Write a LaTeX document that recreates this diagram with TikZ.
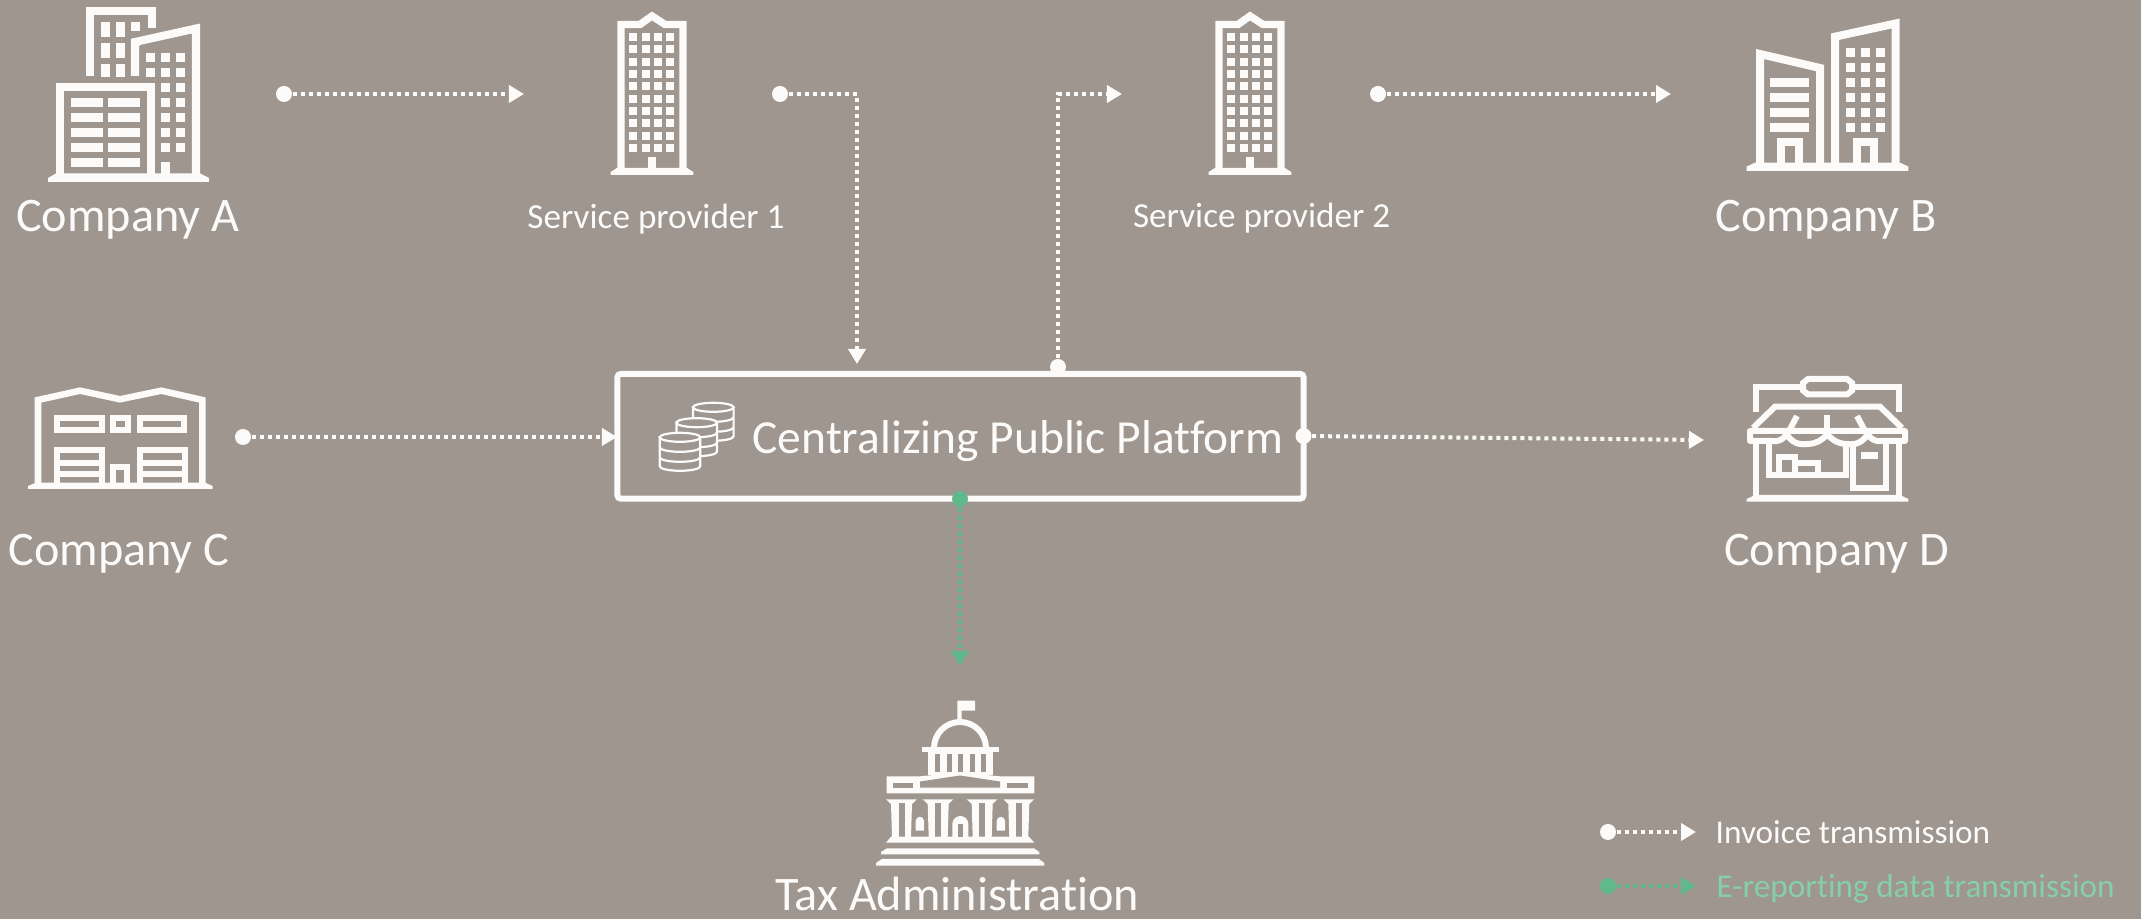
\documentclass[tikz,border=0pt]{standalone}
\usepackage{fontspec}
\setmainfont{Carlito}[Ligatures=CommonOff]
\usetikzlibrary{arrows.meta}
\definecolor{slab}{HTML}{9E968F}
\definecolor{paper}{HTML}{FCFBFA}
\definecolor{leaf}{HTML}{60B98A}
\definecolor{leaftext}{HTML}{85CFA9}
\def\pxw{0.2845pt}
\tikzset{
  bigtext/.style={text=paper,inner sep=0pt,anchor=base,font=\fontsize{13.7}{16}\selectfont},
  midtext/.style={text=paper,inner sep=0pt,anchor=base,font=\fontsize{10}{12}\selectfont},
  legtext/.style={text=paper,inner sep=0pt,anchor=base west,font=\fontsize{9.45}{12}\selectfont},
  outline/.style={draw=paper,line width=8*\pxw,line join=miter},
  thin outline/.style={draw=paper,line width=6*\pxw,line join=miter},
  pane/.style={fill=paper,draw=none},
  gap/.style={fill=slab,draw=none},
  enddot/.style={circle,fill=#1,draw=none,minimum size=16*\pxw,inner sep=0pt},
  flow/.style={#1,line width=4*\pxw,dash pattern=on 4*\pxw off 4*\pxw,
    -{Triangle[length=15*\pxw,width=17*\pxw,fill=#1]}},
  tower/.pic={
    \draw[outline,line width=7.4*\pxw] (621,168) -- (621,24.5) -- (640,24.5) -- (652,16) -- (665,24.5) -- (683,24.5) -- (683,168);
    \foreach \x in {629,642,654,666}
      \foreach \y in {32.7,44.7,58,70,82,95.3,107.3,119.3,132.3,144}
        \fill[pane] (\x,\y) rectangle ++(8,8);
    \fill[pane] (648,157) rectangle (656,170);
    \fill[pane] (610.7,172) -- (617,168) -- (687,168) -- (693.3,172) -- (693.3,175) -- (610.7,175) -- cycle;
  }
}
\begin{document}
\begin{tikzpicture}[x=0.01cm,y=-0.01cm]
  \useasboundingbox (0,0) rectangle (2141,919);
  \fill[slab] (0,0) rectangle (2141,919);

  % Company A
  \draw[outline] (90,76) -- (90,11.5) -- (152,11.5) -- (152,28);
  \foreach \x in {101,116}
    \foreach \y in {22,43,64}
      \fill[pane] (\x,\y) rectangle ++(9,\ifdim\y pt=64pt 13\else 15\fi);
  \fill[pane] (131,22) rectangle (140,31);
  \fill[pane] (131,43) rectangle (140,46);
  \draw[outline] (135,76) -- (135,42) -- (196,28.5) -- (196,174);
  \foreach \x in {146,161,176}
    \foreach \y in {53,68}
      \fill[pane] (\x,\y) rectangle ++(9,9);
  \foreach \x in {161,176}
    \foreach \y in {83,98,113,128,143}
      \fill[pane] (\x,\y) rectangle ++(9,9);
  \fill[pane] (161,162) rectangle (170,174);
  \draw[outline] (60,174) -- (60,87) -- (151,87) -- (151,174);
  \foreach \y in {98,113,128,143,158} {
    \fill[pane] (71,\y) rectangle ++(32,9);
    \fill[pane] (108,\y) rectangle ++(32,9);
  }
  \fill[pane] (48,178) -- (56,173.5) -- (200,173.5) -- (209,178) -- (209,182) -- (48,182) -- cycle;

  % Service providers
  \pic at (0,0) {tower};
  \pic at (598,0) {tower};

  % Company B
  \draw[outline] (1760,166) -- (1760,54) -- (1820,68) -- (1820,166);
  \draw[outline] (1835,166) -- (1835,36.7) -- (1895.7,23.5) -- (1895.7,166);
  \foreach \y in {78.3,93,108,123}
    \fill[pane] (1770,\y) rectangle ++(39,9);
  \foreach \x in {1846,1861,1876}
    \foreach \y in {48,63,78,93,108,123}
      \fill[pane] (\x,\y) rectangle ++(9,9);
  \draw[outline] (1781.2,166) -- (1781.2,142.5) -- (1798.5,142.5) -- (1798.5,166);
  \draw[outline] (1856.5,166) -- (1856.5,142.5) -- (1874,142.5) -- (1874,166);
  \fill[pane] (1746.7,166.5) -- (1755,162.7) -- (1900,162.7) -- (1908.3,166.5) -- (1908.3,171) -- (1746.7,171) -- cycle;

  % Company C
  \draw[thin outline,line width=6.5*\pxw] (38,485) -- (38,400) -- (80,390.7) -- (120,399.3) -- (161.3,390.7) -- (202.3,400) -- (202.3,485);
  \draw[thin outline] (56.7,418.3) rectangle (101.7,430.3);
  \draw[thin outline] (112.7,418.3) rectangle (127.7,430.3);
  \draw[thin outline] (140,418.3) rectangle (184,430.3);
  \foreach \x in {56.7,140} {
    \draw[thin outline] (\x,485) -- (\x,450.3) -- (\x+45,450.3) -- (\x+45,485);
    \draw[thin outline] (\x,462.7) -- (\x+45,462.7);
    \draw[thin outline] (\x,474.3) -- (\x+45,474.3);
  }
  \draw[thin outline] (113.3,485) -- (113.3,467) -- (127.3,467) -- (127.3,485);
  \fill[pane] (28,486) -- (36,482.7) -- (205,482.7) -- (212.7,486) -- (212.7,489) -- (28,489) -- cycle;

  % Company D
  \draw[thin outline] (1756,412) -- (1756,386.7) -- (1803,386.7);
  \draw[thin outline] (1852,386.7) -- (1898.7,386.7) -- (1898.7,412);
  \draw[thin outline] (1808,379) -- (1847,379) -- (1852,383) -- (1852,390.5) -- (1847,394.5) -- (1808,394.5) -- (1803,390.5) -- (1803,383) -- cycle;
  \draw[thin outline] (1753,428) -- (1775,406.7) -- (1880,406.7) -- (1902,428);
  \draw[thin outline] (1797,416) -- (1789,431);
  \draw[thin outline] (1827,415) -- (1827,431);
  \draw[thin outline] (1857,416) -- (1865,431);
  \draw[thin outline,line join=round] (1752,431) -- (1905,431) -- (1905,441) -- (1882,441) to[bend left=35] (1867.7,434) to[bend left=35] (1847,444) to[bend left=25] (1827.3,434) to[bend left=25] (1807,444) to[bend left=35] (1786.7,434) to[bend left=35] (1772,441) -- (1750,441) -- (1750,431) -- cycle;
  \draw[thin outline] (1756,442) -- (1756,497);
  \draw[thin outline] (1898.7,442) -- (1898.7,497);
  \draw[thin outline] (1768.5,444) -- (1768.5,475.5) -- (1846,475.5) -- (1846,444);
  \draw[thin outline] (1853,444) -- (1853,488) -- (1886,488) -- (1886,444);
  \fill[pane] (1861,452.3) rectangle (1878,459);
  \draw[thin outline] (1779,475) -- (1779,457) -- (1795,457) -- (1795,475);
  \draw[thin outline] (1795,463.5) -- (1818,463.5) -- (1818,475);
  \fill[pane] (1746.7,499) -- (1755,495) -- (1900,495) -- (1908.3,499) -- (1908.3,501.7) -- (1746.7,501.7) -- cycle;

  % Tax Administration
  \fill[pane] (957.3,721) rectangle (961.7,700.7) -- (975,700.7) -- (975,710.7) -- (961.7,710.7);
  \draw[thin outline] (934,748) arc[start angle=180,end angle=360,radius=26];
  \fill[pane] (921.7,747.3) rectangle (999,752.3);
  \fill[pane] (928,752) rectangle (993,775);
  \foreach \x in {934.5,946.5,957.5,969.5,981}
    \fill[gap] (\x,754) rectangle ++(5,18);
  \fill[pane] (886.7,776.5) -- (918,776.5) -- (960,772.5) -- (1002,776.5) -- (1034.3,776.5) -- (1034.3,793.3) -- (886.7,793.3) -- cycle;
  \fill[gap] (892.7,782.7) rectangle (913.3,787.7);
  \fill[gap] (1007.3,782.7) rectangle (1028.3,787.7);
  \fill[gap] (920,781.5) -- (960,775.5) -- (1000,781.5) -- (1000,787.7) -- (920,787.7) -- cycle;
  \foreach \x in {886,922.7,966.7,1003.3} {
    \fill[pane] (\x,799.3) -- (\x+30.7,799.3) -- (\x+26,804) -- (\x+25,837) -- (\x+6,837) -- (\x+5,804) -- cycle;
    \fill[gap] (\x+12.5,803) rectangle ++(6,34);
  }
  \fill[pane] (886,842.7) -- (891,836.7) -- (1029,836.7) -- (1034.3,842.7) -- cycle;
  \foreach \x in {915.7,996.7}
    \fill[pane] (\x,830.7) -- (\x,821) arc[start angle=180,end angle=360,radius=4.2] -- (\x+8.4,830.7) -- cycle;
  \fill[pane] (952.3,837) -- (952.3,824) arc[start angle=180,end angle=360,radius=8] -- (968.3,837) -- cycle;
  \fill[gap] (957.7,824) rectangle (962.7,837);
  \fill[pane] (881,852) -- (887,848.3) -- (1034,848.3) -- (1039.3,852) -- (1039.3,854.3) -- (881,854.3) -- cycle;
  \fill[pane] (876,863) -- (882,859) -- (1039,859) -- (1044.3,863) -- (1044.3,865.7) -- (876,865.7) -- cycle;

  % Centralizing platform
  \node[draw=paper,line width=6*\pxw,rounded corners=1pt,minimum width=686*\pxw,minimum height=124.7*\pxw,inner sep=0pt] (platform) at (960.5,436.3) {};
  \node[bigtext,font=\fontsize{13.5}{16}\selectfont] (platformtext) at (1018,454) {Centralizing Public Platform};
  % coin stacks, back one first
  \foreach \x/\y in {713.3/407.3,696.7/422.7,680/437.3} {
    \draw[draw=paper,fill=slab,line width=2.2*\pxw] (\x-20.3,\y) -- (\x-20.3,\y+29) arc[start angle=180,end angle=0,x radius=20.3,y radius=4.5] -- (\x+20.3,\y) -- cycle;
    \draw[draw=paper,fill=slab,line width=2.2*\pxw] (\x,\y) ellipse[x radius=20.3,y radius=4.5];
    \draw[draw=paper,line width=2.2*\pxw] (\x-20.3,\y+10) arc[start angle=180,end angle=0,x radius=20.3,y radius=4.5];
    \draw[draw=paper,line width=2.2*\pxw] (\x-20.3,\y+20) arc[start angle=180,end angle=0,x radius=20.3,y radius=4.5];
  }

  % Labels
  \foreach \n/\x/\y/\t in {coa/127.7/232/Company A,cob/1826/232/Company B,coc/119/566/Company C,cod/1836.5/566/Company D,tax/957/911/Tax Administration}
    \node[bigtext] (\n) at (\x,\y) {\t};
  \node[midtext] (spa) at (656,229) {Service provider 1};
  \node[midtext] (spb) at (1261.6,228) {Service provider 2};
  \node[legtext] (leginv) at (1715,844) {Invoice transmission};
  \node[legtext,text=leaftext] (legrep) at (1716,898) {E-reporting data transmission};

  % Dots and free ends
  \foreach \n/\x/\y in {outa/284/94,outsa/780/94,outpa/1058/367,outsb/1378/94,outc/243/437,outpb/1303.5/436,legdota/1608/832}
    \node[enddot=paper] (\n) at (\x,\y) {};
  \node[enddot=leaf] (outpc) at (960,499) {};
  \node[enddot=leaf] (legdotb) at (1608,886) {};
  \foreach \n/\x/\y in {ina/524/94,insa/857/364,insb/1122/94,inb/1671/94,inpc/617/437,ind/1704/440,intax/960/666,legenda/1696/832,legendb/1696/886}
    \coordinate (\n) at (\x,\y);

  % Invoice flows
  \draw[flow=paper] (outa) -- (ina);
  \draw[flow=paper] (outsa) -| (insa);
  \draw[flow=paper] (outpa) |- (insb);
  \draw[flow=paper] (outsb) -- (inb);
  \draw[flow=paper] (outc) -- (inpc);
  \draw[flow=paper] (outpb) -- (ind);
  \draw[flow=leaf] (outpc) -- (intax);

  % Legend
  \draw[flow=paper] (legdota) -- (legenda);
  \draw[flow=leaf] (legdotb) -- (legendb);
\end{tikzpicture}
\end{document}
